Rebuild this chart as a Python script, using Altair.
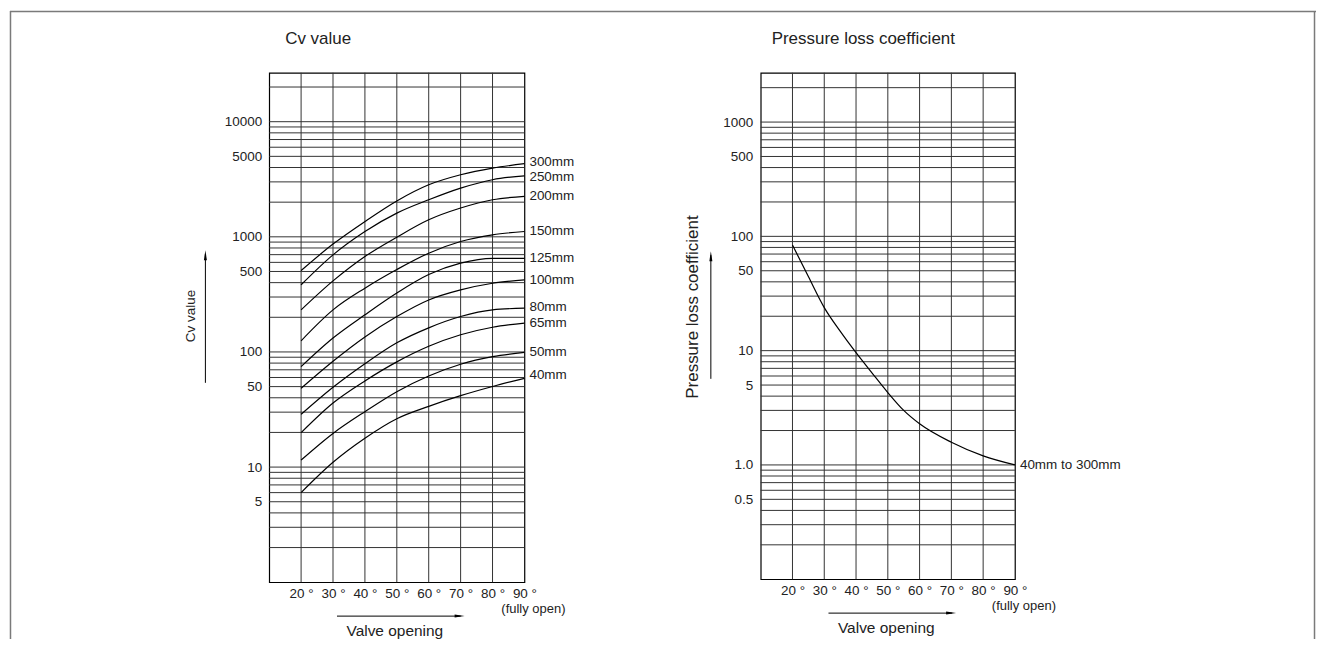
import altair as alt
import pandas as pd

FONT = "Liberation Sans"
INK = "#222222"
GRID = "#333333"

# ---------------- data ----------------
angles = [20, 30, 40, 50, 60, 70, 80, 90]

cv_300 = [509, 865, 1358, 2050, 2831, 3459, 3954, 4315]
cv_250 = [383, 697, 1112, 1607, 2099, 2649, 3133, 3388]
cv_200 = [232, 414, 675, 993, 1406, 1778, 2099, 2244]
cv_150 = [125, 232, 358, 520, 721, 910, 1040, 1112]
cv_125 = [74.5, 132, 210, 325, 470, 590, 650, 650]
cv_100 = [48.3, 83, 135, 203, 283, 346, 395, 423]
cv_80 = [28.7, 49.3, 79, 120, 162, 203, 232, 240]
cv_65 = [19.9, 36, 56, 82, 112, 141, 164, 178]
cv_50 = [11.5, 19.6, 30.3, 45.2, 61.8, 78.2, 91, 99.3]
cv_40 = [6.0, 11.0, 17.8, 26.3, 33.7, 41.7, 50.1, 59]

cv_series = [
    ("300mm", cv_300), ("250mm", cv_250), ("200mm", cv_200), ("150mm", cv_150),
    ("125mm", cv_125), ("100mm", cv_100), ("80mm", cv_80), ("65mm", cv_65),
    ("50mm", cv_50), ("40mm", cv_40),
]

loss_angles = [20, 25, 30, 35, 40, 45, 50, 55, 60, 70, 80, 90]
loss_values = [84, 44.5, 23.8, 14.8, 9.6, 6.4, 4.3, 3.0, 2.29, 1.58, 1.2, 1.0]
loss_label = "40mm to 300mm"

angle_ticks = [20, 30, 40, 50, 60, 70, 80, 90]
vertical_grid = [20, 30, 40, 50, 60, 70, 80]
cv_tick_values = [5, 10, 50, 100, 500, 1000, 5000, 10000]
loss_tick_values = [0.5, 1, 5, 10, 50, 100, 500, 1000]

CV_DOMAIN = [1, 26600]
LOSS_DOMAIN = [0.1, 2700]

cv_grid = [m * 10 ** e for e in range(0, 5) for m in range(1, 10)
           if CV_DOMAIN[0] < m * 10 ** e < CV_DOMAIN[1]]
loss_grid = [round(m * 10.0 ** e, 6) for e in range(-1, 4) for m in range(1, 10)
             if LOSS_DOMAIN[0] < round(m * 10.0 ** e, 6) < LOSS_DOMAIN[1]]

cv_rows = []
for name, vals in cv_series:
    for a, v in zip(angles, vals):
        cv_rows.append({"size": name, "angle": a, "value": v})
cv_df = pd.DataFrame(cv_rows)

loss_df = pd.DataFrame({"angle": loss_angles, "value": loss_values, "size": "all"})

# small vertical nudges of the end labels (pixels)
label_nudge = {"300mm": -1.5, "250mm": 1.0, "80mm": -1.5, "40mm": -3}

one = pd.DataFrame({"k": [0]})

xscale = alt.Scale(domain=[10, 90], nice=False, zero=False)
xaxis = alt.Axis(values=angle_ticks, labelExpr="datum.value + ' °'", ticks=False, domain=False,
                 grid=False, labelPadding=4, labelFontSize=13.5, labelColor=INK, title=None,
                 labelFont=FONT, labelFlush=False, labelOverlap=False)

ARROW_UP = "M 0 -1 L 0.3 1 L -0.3 1 Z"
ARROW_RIGHT = "M 1 0 L -1 -0.3 L -1 0.3 Z"


def deco_text(text, x, y, size, align="center", angle=0):
    return alt.Chart(one).mark_text(text=text, fontSize=size, font=FONT, color=INK,
                                    align=align, baseline="middle", angle=angle).encode(
        x=alt.value(x), y=alt.value(y))


def vrule(x, y, y2, color="black", width=1.0):
    return alt.Chart(one).mark_rule(color=color, strokeWidth=width).encode(
        x=alt.value(x), y=alt.value(y), y2=alt.value(y2))


def hrule(x, x2, y, color="black", width=1.0):
    return alt.Chart(one).mark_rule(color=color, strokeWidth=width).encode(
        x=alt.value(x), x2=alt.value(x2), y=alt.value(y))


def arrowhead(shape, x, y):
    return alt.Chart(one).mark_point(shape=shape, filled=True, color="black", size=100,
                                     opacity=1, strokeWidth=0).encode(
        x=alt.value(x), y=alt.value(y))


def panel(width, height, ydomain, grid_vals, tick_vals, label_expr, label_pad,
          series, title, title_x, ytitle, ytitle_size, ytitle_xy, yarrow, extra):
    yscale = alt.Scale(type="log", domain=ydomain, nice=False)
    yaxis = alt.Axis(values=tick_vals, labelExpr=label_expr, ticks=False, domain=False, grid=False,
                     labelPadding=label_pad, labelFontSize=13.5, labelColor=INK, title=None,
                     labelFont=FONT, labelOverlap=False, labelFlush=False)
    X = lambda f: alt.X(f, scale=xscale, axis=xaxis)
    Y = lambda f: alt.Y(f, scale=yscale, axis=yaxis)

    line_df, labels = series
    layers = list(extra)
    layers += [
        alt.Chart(pd.DataFrame({"v": grid_vals})).mark_rule(color=GRID, strokeWidth=1).encode(
            y=Y("v:Q")),
        alt.Chart(pd.DataFrame({"a": vertical_grid})).mark_rule(color=GRID, strokeWidth=1).encode(
            x=X("a:Q")),
        alt.Chart(line_df).mark_line(color="black", strokeWidth=1.2, interpolate="monotone").encode(
            x=X("angle:Q"), y=Y("value:Q"), detail="size:N"),
    ]
    for text, a, v in labels:
        layers.append(
            alt.Chart(pd.DataFrame({"angle": [a], "value": [v], "t": [text]})).mark_text(
                align="left", baseline="middle", dx=5, dy=label_nudge.get(text, 0),
                fontSize=13.5, font=FONT, color=INK).encode(
                x=X("angle:Q"), y=Y("value:Q"), text="t:N"))
    layers += [
        deco_text(title, title_x, -34, 17, align="left"),
        deco_text(ytitle, ytitle_xy[0], ytitle_xy[1], ytitle_size, angle=270),
        vrule(yarrow[0], yarrow[1] + 4, yarrow[2]),
        arrowhead(ARROW_UP, yarrow[0], yarrow[1] + 5),
        deco_text("(fully open)", width + 9, height + 27, 13),
        hrule(68, 192, height + 34),
        arrowhead(ARROW_RIGHT, 191, height + 34),
        deco_text("Valve opening", 126, height + 49, 15.5),
    ]
    return alt.layer(*layers).properties(width=width, height=height)


BORDER = "#7a7a7a"
left_extra = [
    alt.Chart(one).mark_rect(opacity=0, fill="white").encode(
        x=alt.value(-260), x2=alt.value(381), y=alt.value(-62), y2=alt.value(568)),
    hrule(-260, 1050, -61.5, color=BORDER, width=1.5),
    vrule(-259.5, -62, 568, color=BORDER, width=1.5),
    vrule(1048.5, -62, 568, color=BORDER, width=1.5),
]

left = panel(
    256, 511, CV_DOMAIN, cv_grid, cv_tick_values, "format(datum.value, 'd')", 7.5,
    (cv_df, [(n, angles[-1], v[-1]) for n, v in cv_series]),
    "Cv value", 16, "Cv value", 13.5, (-78, 244), (-64, 178, 311), left_extra,
)

right = panel(
    255, 508, LOSS_DOMAIN, loss_grid, loss_tick_values,
    "datum.value == 1 ? '1.0' : toString(datum.value)", 8,
    (loss_df, [(loss_label, loss_angles[-1], loss_values[-1])]),
    "Pressure loss coefficient", 11, "Pressure loss coefficient", 17, (-68, 235),
    (-50, 179, 307), [],
)

chart = alt.hconcat(left, right, spacing=237, bounds="flush").properties(
    padding=0, background="white"
).configure_view(stroke="black", strokeWidth=1.2).configure_text(font=FONT)

chart.save("out.html", embed_options={"renderer": "svg", "actions": False})
